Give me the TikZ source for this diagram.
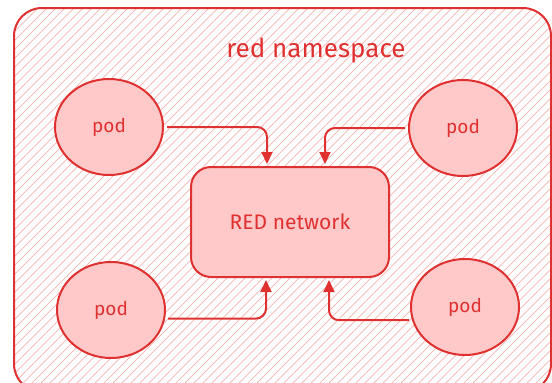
\documentclass[tikz,border=0pt]{standalone}
\usepackage{fontspec}
\setmainfont{Fira Sans}
\usepackage{tikz}
\usetikzlibrary{shapes.geometric,arrows.meta}
\definecolor{redline}{HTML}{E03131}
\definecolor{redfill}{HTML}{FFC9C9}
\definecolor{redhatch}{HTML}{F6BDBD}

\begin{document}
\begin{tikzpicture}[x=1pt,y=-1pt]
\tikzset{pod/.style = {shape=ellipse,draw=redline,fill=redfill,line width=2pt,minimum width=108pt,minimum height=96pt,text=redline,font=\fontsize{19}{22}\selectfont}}
\tikzset{net/.style = {shape=rectangle,rounded corners=20pt,draw=redline,fill=redfill,line width=2pt,minimum width=198pt,minimum height=110pt,text=redline,font=\fontsize{21}{25}\selectfont}}
\tikzset{edge/.style = {-{Triangle[length=12pt,width=11pt]},draw=redline,line width=2pt,rounded corners=10pt,shorten >=2pt,shorten <=3pt}}
\useasboundingbox (0,0) rectangle (552,383);
\clip (0,0) rectangle (552,383);
% namespace box with hatching
\begin{scope}
\clip[rounded corners=28pt] (14,8) rectangle (551,392);
\foreach \i in {-400,-391,...,560}
  \draw[redhatch,line width=1pt] (\i,392) -- (\i+392,0);
\end{scope}
\draw[redline,line width=2pt,rounded corners=28pt] (14,8) rectangle (551,392);
\node[text=redline,font=\fontsize{26}{30}\selectfont] (ns) at (316,51) {red namespace};
\node[net] (red) at (290,222) {RED network};
\node[pod] (tl) at (109,127) {pod};
\node[pod] (tr) at (463,128) {pod};
\node[pod] (bl) at (111,310) {pod};
\node[pod] (br) at (465,307) {pod};
\draw[edge] (tl.east) -| ([xshift=-23pt]red.north);
\draw[edge] (tr.west) -| ([xshift=35pt]red.north);
\draw[edge] (bl.-9) -| ([xshift=-24pt]red.south);
\draw[edge] (br.194) -| ([xshift=39pt]red.south);
\end{tikzpicture}
\end{document}
